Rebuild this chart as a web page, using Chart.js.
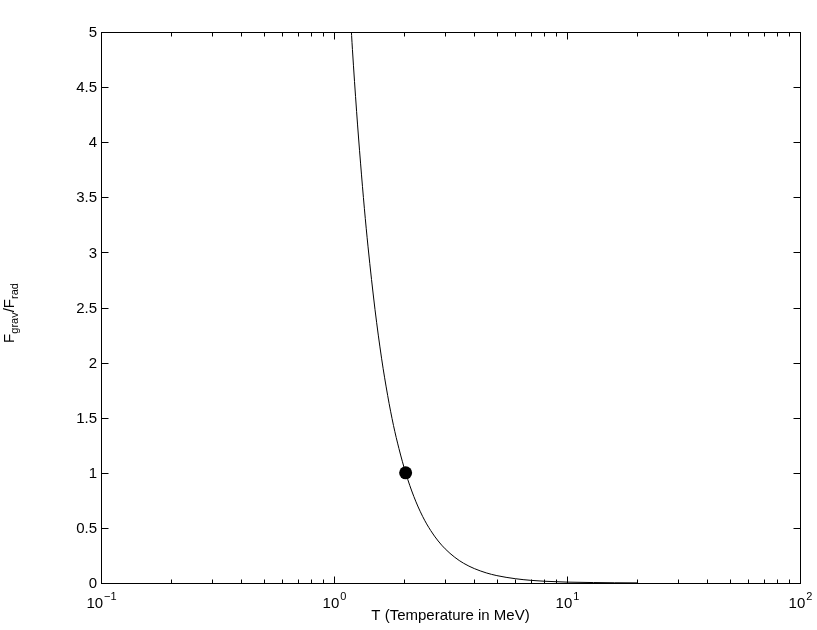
<!DOCTYPE html>
<html>
<head>
<meta charset="utf-8">
<script src="https://cdn.jsdelivr.net/npm/chart.js@4"></script>
<style>
    body { margin: 0; background: #fff; }
    canvas { display: block; }
</style>
</head>
<body>
<canvas id="chart" width="817" height="630"></canvas>
<script>
// values
const temps = [1.18, 1.2, 1.25, 1.3, 1.35, 1.4, 1.5, 1.6, 1.7, 1.8, 1.9, 2.03, 2.2, 2.4, 2.6, 2.8, 3.0, 3.3, 3.6, 4.0, 4.5, 5.0, 6.0, 7.0, 8.0, 10, 13, 16, 20];
const ratio = [5.1, 4.84, 4.28, 3.81, 3.4, 3.05, 2.48, 2.04, 1.7, 1.43, 1.22, 1.0, 0.786, 0.605, 0.476, 0.381, 0.31, 0.233, 0.179, 0.131, 0.092, 0.067, 0.039, 0.024, 0.016, 0.008, 0.004, 0.002, 0.001];
const markT = [2.03];
const markF = [1.0];

const xDecades = [0.1, 1, 10, 100];
const xExponents = ['\u22121', '0', '1', '2'];
const xMinorSteps = [2, 3, 4, 5, 6, 7, 8, 9];
const yTicks = [0, 0.5, 1, 1.5, 2, 2.5, 3, 3.5, 4, 4.5, 5];
const yTickLabels = ['0', '0.5', '1', '1.5', '2', '2.5', '3', '3.5', '4', '4.5', '5'];

const font = '"Liberation Sans", Arial, Helvetica, sans-serif';

const axesPlugin = {
    id: 'matlabAxes',
    afterDraw(chart) {
        const ctx = chart.ctx;
        const a = chart.chartArea;
        const xs = chart.scales.x;
        const ys = chart.scales.y;
        const L = Math.round(a.left) + 0.5, R = Math.round(a.right) + 0.5;
        const T = Math.round(a.top) + 0.5, B = Math.round(a.bottom) + 0.5;
        ctx.save();
        ctx.strokeStyle = '#000';
        ctx.lineWidth = 1;
        ctx.strokeRect(L, T, R - L, B - T);

        ctx.beginPath();
        // x major + minor ticks (bottom and top, inward)
        xDecades.forEach((d, i) => {
            const px = Math.round(xs.getPixelForValue(d)) + 0.5;
            ctx.moveTo(px, B); ctx.lineTo(px, B - 7);
            ctx.moveTo(px, T); ctx.lineTo(px, T + 7);
            if (i < xDecades.length - 1) {
                xMinorSteps.forEach(m => {
                    const mx = Math.round(xs.getPixelForValue(d * m)) + 0.5;
                    ctx.moveTo(mx, B); ctx.lineTo(mx, B - 4);
                    ctx.moveTo(mx, T); ctx.lineTo(mx, T + 4);
                });
            }
        });
        // y ticks left and right
        yTicks.forEach(v => {
            const py = Math.round(ys.getPixelForValue(v)) + 0.5;
            ctx.moveTo(L, py); ctx.lineTo(L + 7, py);
            ctx.moveTo(R, py); ctx.lineTo(R - 7, py);
        });
        ctx.stroke();

        ctx.fillStyle = '#000';
        // y tick labels
        ctx.font = '15px ' + font;
        ctx.textAlign = 'right';
        ctx.textBaseline = 'middle';
        yTicks.forEach((v, i) => {
            ctx.fillText(yTickLabels[i], a.left - 4, ys.getPixelForValue(v) + 1);
        });

        // x tick labels as 10^n
        ctx.textAlign = 'left';
        ctx.textBaseline = 'alphabetic';
        xDecades.forEach((d, i) => {
            const px = xs.getPixelForValue(d);
            ctx.font = '15px ' + font;
            const w1 = ctx.measureText('10').width;
            ctx.font = '11px ' + font;
            const w2 = ctx.measureText(xExponents[i]).width;
            const x0 = px - (w1 + w2) / 2;
            ctx.font = '15px ' + font;
            ctx.fillText('10', x0, 608);
            ctx.font = '11px ' + font;
            ctx.fillText(xExponents[i], x0 + w1 + 1, 600);
        });

        // x title
        ctx.font = '15px ' + font;
        ctx.textAlign = 'center';
        ctx.fillText('T (Temperature in MeV)', (a.left + a.right) / 2, 620);

        // y title  F_grav / F_rad
        const parts = [['F', 15, 0], ['grav', 11, 4], ['/F', 15, 0], ['rad', 11, 4]];
        let total = 0;
        parts.forEach(p => { ctx.font = p[1] + 'px ' + font; total += ctx.measureText(p[0]).width; });
        ctx.translate(14, 313);
        ctx.rotate(-Math.PI / 2);
        ctx.textAlign = 'left';
        let cx = -total / 2;
        parts.forEach(p => {
            ctx.font = p[1] + 'px ' + font;
            ctx.fillText(p[0], cx, p[2]);
            cx += ctx.measureText(p[0]).width;
        });
        ctx.restore();
    }
};

const ctx = document.getElementById('chart').getContext('2d');
new Chart(ctx, {
    type: 'line',
    data: {
        datasets: [{
            data: temps.map((t, i) => ({x: t, y: ratio[i]})),
            borderColor: '#000',
            borderWidth: 1,
            pointRadius: 0,
            cubicInterpolationMode: 'monotone'
        }, {
            data: markT.map((t, i) => ({x: t, y: markF[i]})),
            showLine: false,
            pointRadius: 6.5,
            pointBackgroundColor: '#000',
            pointBorderColor: '#000',
            pointBorderWidth: 0
        }]
    },
    options: {
        responsive: false,
        animation: false,
        devicePixelRatio: 1,
        layout: {padding: {left: 101, right: 17, top: 32, bottom: 47}},
        plugins: {legend: {display: false}, tooltip: {enabled: false}},
        scales: {
            x: {type: 'logarithmic', min: 0.1, max: 100, display: false},
            y: {type: 'linear', min: 0, max: 5, display: false}
        }
    },
    plugins: [axesPlugin]
});
</script>
</body>
</html>
